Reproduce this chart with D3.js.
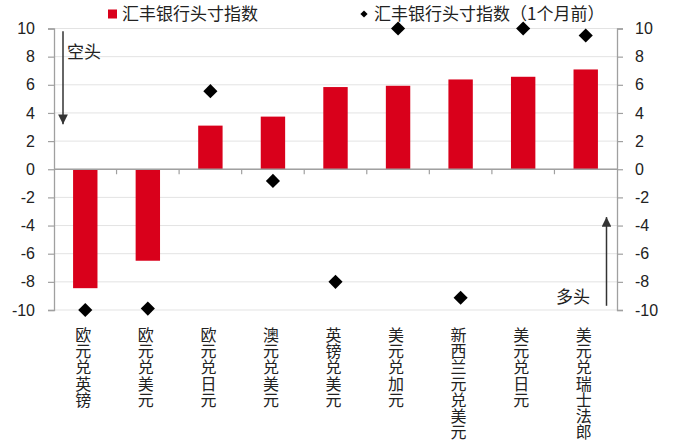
<!DOCTYPE html>
<html><head><meta charset="utf-8">
<script src="https://cdn.jsdelivr.net/npm/d3@7"></script>
<style>
html,body{margin:0;padding:0;background:#fff;}
svg{display:block;}
</style>
</head><body>
<svg id="chart" width="680" height="443"></svg>
<script>
const categories = ["欧元兑英镑","欧元兑美元","欧元兑日元","澳元兑美元","英镑兑美元","美元兑加元","新西兰元兑美元","美元兑日元","美元兑瑞士法郎"];
const currentIndex = [-8.45, -6.5, 3.1, 3.74, 5.84, 5.93, 6.38, 6.57, 7.09];
const monthAgoIndex = [-10, -9.9, 5.55, -0.83, -8.0, 10, -9.13, 10, 9.5];
const yTicks = [-10,-8,-6,-4,-2,0,2,4,6,8,10];
const seriesNames = ["汇丰银行头寸指数","汇丰银行头寸指数（1个月前）"];

const svg = d3.select("#chart");
const W = 680, H = 443;
const m = {left:54, right:63, top:28.5, bottom:133};
const x = d3.scaleBand().domain(categories).range([m.left, W - m.right]).paddingInner(0).paddingOuter(0);
const y = d3.scaleLinear().domain([-10,10]).range([H - m.bottom, m.top]);
const cjk = "'Noto Sans CJK SC','Microsoft YaHei',sans-serif";
const num = "'Liberation Sans',Arial,sans-serif";
const red = "#D9001B";
const axisCol = "#a0a0a0";

// grid
svg.append("g").selectAll("line").data(yTicks).join("line")
  .attr("x1", m.left).attr("x2", W - m.right)
  .attr("y1", d => y(d)).attr("y2", d => y(d))
  .attr("stroke", "#e3e3e3").attr("stroke-width", 1);

// bars
const bw = x.bandwidth() * 0.39;
svg.append("g").selectAll("rect").data(categories).join("rect")
  .attr("x", d => x(d) + x.bandwidth()/2 - bw/2)
  .attr("width", bw)
  .attr("y", (d,i) => Math.min(y(currentIndex[i]), y(0)))
  .attr("height", (d,i) => Math.abs(y(currentIndex[i]) - y(0)))
  .attr("fill", red);

// left axis
const yl = svg.append("g").attr("transform", `translate(${m.left},0)`)
  .call(d3.axisLeft(y).tickValues(yTicks).tickSize(6).tickPadding(13).tickFormat(d3.format("d")));
// right axis
const yr = svg.append("g").attr("transform", `translate(${W - m.right},0)`)
  .call(d3.axisRight(y).tickValues(yTicks).tickSize(6).tickPadding(12).tickFormat(d3.format("d")));
[yl, yr].forEach(g => {
  g.select(".domain").attr("stroke", axisCol).attr("stroke-width", 1.3);
  g.selectAll(".tick line").attr("stroke", axisCol).attr("stroke-width", 1.2);
  g.selectAll(".tick text").attr("font-family", num).attr("font-size", 16).attr("fill", "#222");
});
yl.selectAll(".tick text").text(d => d < 0 ? "-" + Math.abs(d) : d);
yr.selectAll(".tick text").text(d => d < 0 ? "-" + Math.abs(d) : d);

// zero line and category ticks
svg.append("line").attr("x1", m.left).attr("x2", W - m.right)
  .attr("y1", y(0)).attr("y2", y(0)).attr("stroke", axisCol).attr("stroke-width", 1.3);
svg.append("g").selectAll("line").data(categories.slice(1)).join("line")
  .attr("x1", d => x(d)).attr("x2", d => x(d))
  .attr("y1", y(0)).attr("y2", y(0) + 5)
  .attr("stroke", axisCol).attr("stroke-width", 1.2);

// diamonds
const diamond = d3.symbol().type(d3.symbolSquare).size(100);
svg.append("g").selectAll("path").data(categories).join("path")
  .attr("d", diamond)
  .attr("transform", (d,i) => `translate(${x(d) + x.bandwidth()/2},${y(monthAgoIndex[i])}) rotate(45)`)
  .attr("fill", "#000");

// category labels (vertical stacked chars)
const lab = svg.append("g").selectAll("text").data(categories).join("text")
  .attr("font-family", cjk).attr("font-size", 16).attr("fill", "#222")
  .attr("text-anchor", "middle");
lab.each(function(d){
  const t = d3.select(this);
  const cx = x(d) + x.bandwidth()/2 - 2;
  Array.from(d).forEach((ch, k) => {
    t.append("tspan").attr("x", cx).attr("y", 341 + k*16.2).text(ch);
  });
});

// legend
const lg = svg.append("g");
lg.append("rect").attr("x", 108).attr("y", 9.5).attr("width", 9).attr("height", 9).attr("fill", red);
lg.append("text").attr("x", 122).attr("y", 20).attr("font-family", cjk).attr("font-size", 17).attr("fill", "#222").text(seriesNames[0]);
lg.append("path").attr("d", d3.symbol().type(d3.symbolSquare).size(26))
  .attr("transform", "translate(364,14) rotate(45)").attr("fill", "#000");
lg.append("text").attr("x", 374).attr("y", 20).attr("font-family", cjk).attr("font-size", 17).attr("fill", "#222").text(seriesNames[1]);

// arrows
svg.append("defs").append("marker").attr("id","ah").attr("viewBox","0 0 10 10")
  .attr("refX", 10).attr("refY", 5).attr("markerWidth", 6.5).attr("markerHeight", 6.5)
  .attr("markerUnits","strokeWidth").attr("orient","auto")
  .append("path").attr("d","M0,0L10,5L0,10Z").attr("fill","#333");
svg.append("line").attr("x1", 63).attr("x2", 63).attr("y1", y(9.8)).attr("y2", y(3.2))
  .attr("stroke", "#333").attr("stroke-width", 1.5).attr("marker-end","url(#ah)");
svg.append("line").attr("x1", 606.5).attr("x2", 606.5).attr("y1", y(-9.7)).attr("y2", y(-3.4))
  .attr("stroke", "#333").attr("stroke-width", 1.5).attr("marker-end","url(#ah)");
svg.append("text").attr("x", 67).attr("y", 58).attr("font-family", cjk).attr("font-size", 17).attr("fill","#222").text("空头");
svg.append("text").attr("x", 556).attr("y", 303).attr("font-family", cjk).attr("font-size", 17).attr("fill","#222").text("多头");
</script>
</body></html>
